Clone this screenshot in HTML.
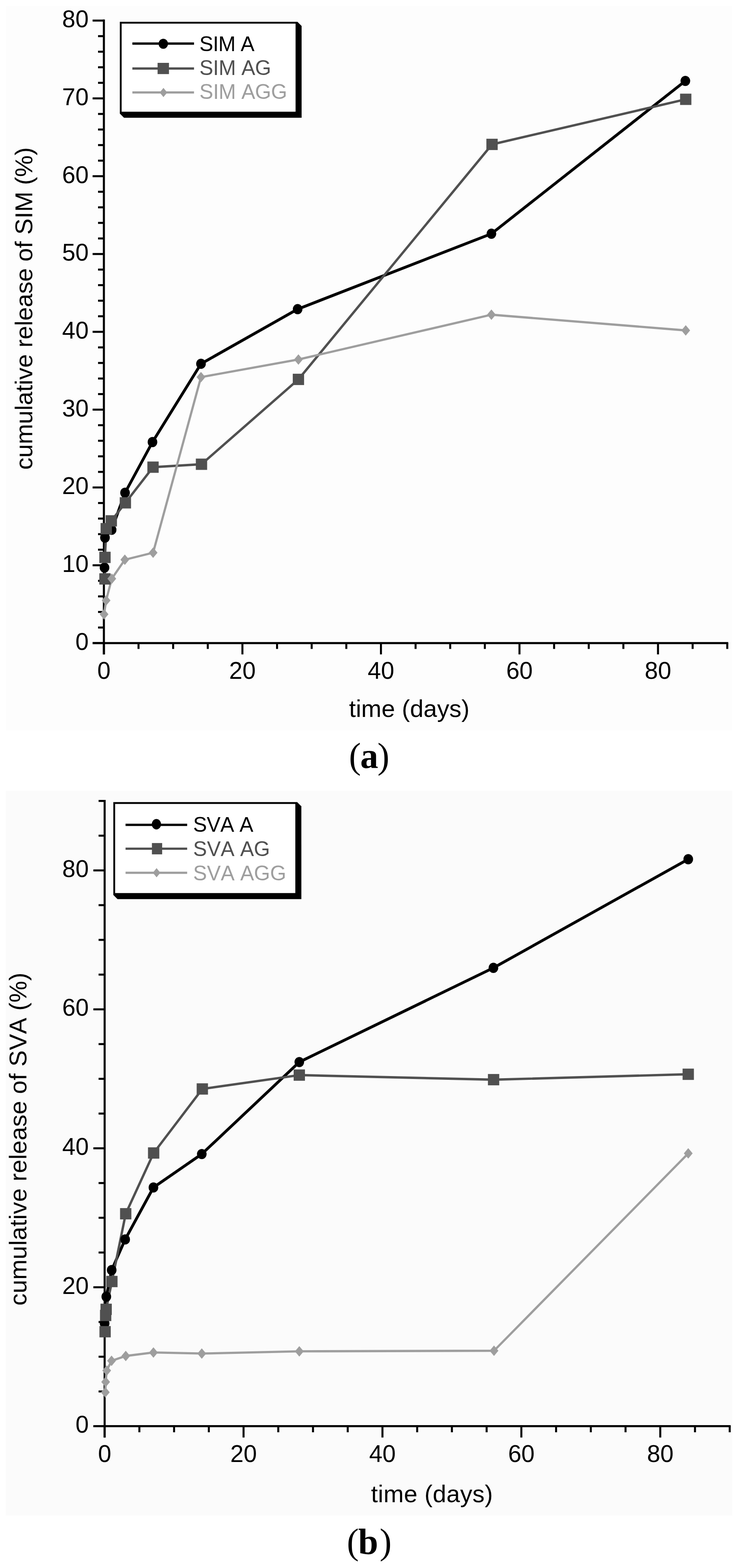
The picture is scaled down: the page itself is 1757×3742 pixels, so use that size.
<!DOCTYPE html>
<html><head><meta charset="utf-8"><title>Cumulative release</title><style>html,body{margin:0;padding:0;background:#fff;overflow:hidden}svg{display:block}text{font-kerning:none}</style></head><body>
<svg width="1757" height="3742" viewBox="0 0 1757 3742">
<rect width="1757" height="3742" fill="#fff"/>
<rect x="14" y="14" width="1734" height="1729" fill="#fdfdfd"/>
<line x1="248" y1="46.6" x2="248" y2="1561.65" stroke="#000" stroke-width="4.9"/>
<line x1="221.05" y1="1534.7" x2="1738.45" y2="1534.7" stroke="#000" stroke-width="5"/>
<line x1="221.05" y1="1534.7" x2="248" y2="1534.7" stroke="#000" stroke-width="4.8"/>
<text x="211.7" y="1550.7" font-family='"Liberation Sans", Arial, sans-serif' font-size="57" font-weight="normal" fill="#000000" text-anchor="end" >0</text>
<line x1="234.05" y1="1497.56" x2="248" y2="1497.56" stroke="#000" stroke-width="4.8"/>
<line x1="234.05" y1="1460.42" x2="248" y2="1460.42" stroke="#000" stroke-width="4.8"/>
<line x1="234.05" y1="1423.28" x2="248" y2="1423.28" stroke="#000" stroke-width="4.8"/>
<line x1="234.05" y1="1386.14" x2="248" y2="1386.14" stroke="#000" stroke-width="4.8"/>
<line x1="221.05" y1="1349" x2="248" y2="1349" stroke="#000" stroke-width="4.8"/>
<text x="211.7" y="1365" font-family='"Liberation Sans", Arial, sans-serif' font-size="57" font-weight="normal" fill="#000000" text-anchor="end" >10</text>
<line x1="234.05" y1="1311.86" x2="248" y2="1311.86" stroke="#000" stroke-width="4.8"/>
<line x1="234.05" y1="1274.72" x2="248" y2="1274.72" stroke="#000" stroke-width="4.8"/>
<line x1="234.05" y1="1237.58" x2="248" y2="1237.58" stroke="#000" stroke-width="4.8"/>
<line x1="234.05" y1="1200.44" x2="248" y2="1200.44" stroke="#000" stroke-width="4.8"/>
<line x1="221.05" y1="1163.3" x2="248" y2="1163.3" stroke="#000" stroke-width="4.8"/>
<text x="211.7" y="1179.3" font-family='"Liberation Sans", Arial, sans-serif' font-size="57" font-weight="normal" fill="#000000" text-anchor="end" >20</text>
<line x1="234.05" y1="1126.16" x2="248" y2="1126.16" stroke="#000" stroke-width="4.8"/>
<line x1="234.05" y1="1089.02" x2="248" y2="1089.02" stroke="#000" stroke-width="4.8"/>
<line x1="234.05" y1="1051.88" x2="248" y2="1051.88" stroke="#000" stroke-width="4.8"/>
<line x1="234.05" y1="1014.74" x2="248" y2="1014.74" stroke="#000" stroke-width="4.8"/>
<line x1="221.05" y1="977.6" x2="248" y2="977.6" stroke="#000" stroke-width="4.8"/>
<text x="211.7" y="993.6" font-family='"Liberation Sans", Arial, sans-serif' font-size="57" font-weight="normal" fill="#000000" text-anchor="end" >30</text>
<line x1="234.05" y1="940.46" x2="248" y2="940.46" stroke="#000" stroke-width="4.8"/>
<line x1="234.05" y1="903.32" x2="248" y2="903.32" stroke="#000" stroke-width="4.8"/>
<line x1="234.05" y1="866.18" x2="248" y2="866.18" stroke="#000" stroke-width="4.8"/>
<line x1="234.05" y1="829.04" x2="248" y2="829.04" stroke="#000" stroke-width="4.8"/>
<line x1="221.05" y1="791.9" x2="248" y2="791.9" stroke="#000" stroke-width="4.8"/>
<text x="211.7" y="807.9" font-family='"Liberation Sans", Arial, sans-serif' font-size="57" font-weight="normal" fill="#000000" text-anchor="end" >40</text>
<line x1="234.05" y1="754.76" x2="248" y2="754.76" stroke="#000" stroke-width="4.8"/>
<line x1="234.05" y1="717.62" x2="248" y2="717.62" stroke="#000" stroke-width="4.8"/>
<line x1="234.05" y1="680.48" x2="248" y2="680.48" stroke="#000" stroke-width="4.8"/>
<line x1="234.05" y1="643.34" x2="248" y2="643.34" stroke="#000" stroke-width="4.8"/>
<line x1="221.05" y1="606.2" x2="248" y2="606.2" stroke="#000" stroke-width="4.8"/>
<text x="211.7" y="622.2" font-family='"Liberation Sans", Arial, sans-serif' font-size="57" font-weight="normal" fill="#000000" text-anchor="end" >50</text>
<line x1="234.05" y1="569.06" x2="248" y2="569.06" stroke="#000" stroke-width="4.8"/>
<line x1="234.05" y1="531.92" x2="248" y2="531.92" stroke="#000" stroke-width="4.8"/>
<line x1="234.05" y1="494.78" x2="248" y2="494.78" stroke="#000" stroke-width="4.8"/>
<line x1="234.05" y1="457.64" x2="248" y2="457.64" stroke="#000" stroke-width="4.8"/>
<line x1="221.05" y1="420.5" x2="248" y2="420.5" stroke="#000" stroke-width="4.8"/>
<text x="211.7" y="436.5" font-family='"Liberation Sans", Arial, sans-serif' font-size="57" font-weight="normal" fill="#000000" text-anchor="end" >60</text>
<line x1="234.05" y1="383.36" x2="248" y2="383.36" stroke="#000" stroke-width="4.8"/>
<line x1="234.05" y1="346.22" x2="248" y2="346.22" stroke="#000" stroke-width="4.8"/>
<line x1="234.05" y1="309.08" x2="248" y2="309.08" stroke="#000" stroke-width="4.8"/>
<line x1="234.05" y1="271.94" x2="248" y2="271.94" stroke="#000" stroke-width="4.8"/>
<line x1="221.05" y1="234.8" x2="248" y2="234.8" stroke="#000" stroke-width="4.8"/>
<text x="211.7" y="250.8" font-family='"Liberation Sans", Arial, sans-serif' font-size="57" font-weight="normal" fill="#000000" text-anchor="end" >70</text>
<line x1="234.05" y1="197.66" x2="248" y2="197.66" stroke="#000" stroke-width="4.8"/>
<line x1="234.05" y1="160.52" x2="248" y2="160.52" stroke="#000" stroke-width="4.8"/>
<line x1="234.05" y1="123.38" x2="248" y2="123.38" stroke="#000" stroke-width="4.8"/>
<line x1="234.05" y1="86.24" x2="248" y2="86.24" stroke="#000" stroke-width="4.8"/>
<line x1="221.05" y1="49.1" x2="248" y2="49.1" stroke="#000" stroke-width="4.8"/>
<text x="211.7" y="65.1" font-family='"Liberation Sans", Arial, sans-serif' font-size="57" font-weight="normal" fill="#000000" text-anchor="end" >80</text>
<line x1="248" y1="1534.7" x2="248" y2="1561.7" stroke="#000" stroke-width="4.8"/>
<text x="248" y="1620" font-family='"Liberation Sans", Arial, sans-serif' font-size="57" font-weight="normal" fill="#000000" text-anchor="middle" >0</text>
<line x1="330.68" y1="1534.7" x2="330.68" y2="1548.7" stroke="#000" stroke-width="4.8"/>
<line x1="413.35" y1="1534.7" x2="413.35" y2="1548.7" stroke="#000" stroke-width="4.8"/>
<line x1="496.02" y1="1534.7" x2="496.02" y2="1548.7" stroke="#000" stroke-width="4.8"/>
<line x1="578.7" y1="1534.7" x2="578.7" y2="1561.7" stroke="#000" stroke-width="4.8"/>
<text x="578.7" y="1620" font-family='"Liberation Sans", Arial, sans-serif' font-size="57" font-weight="normal" fill="#000000" text-anchor="middle" >20</text>
<line x1="661.38" y1="1534.7" x2="661.38" y2="1548.7" stroke="#000" stroke-width="4.8"/>
<line x1="744.05" y1="1534.7" x2="744.05" y2="1548.7" stroke="#000" stroke-width="4.8"/>
<line x1="826.73" y1="1534.7" x2="826.73" y2="1548.7" stroke="#000" stroke-width="4.8"/>
<line x1="909.4" y1="1534.7" x2="909.4" y2="1561.7" stroke="#000" stroke-width="4.8"/>
<text x="909.4" y="1620" font-family='"Liberation Sans", Arial, sans-serif' font-size="57" font-weight="normal" fill="#000000" text-anchor="middle" >40</text>
<line x1="992.08" y1="1534.7" x2="992.08" y2="1548.7" stroke="#000" stroke-width="4.8"/>
<line x1="1074.75" y1="1534.7" x2="1074.75" y2="1548.7" stroke="#000" stroke-width="4.8"/>
<line x1="1157.42" y1="1534.7" x2="1157.42" y2="1548.7" stroke="#000" stroke-width="4.8"/>
<line x1="1240.1" y1="1534.7" x2="1240.1" y2="1561.7" stroke="#000" stroke-width="4.8"/>
<text x="1240.1" y="1620" font-family='"Liberation Sans", Arial, sans-serif' font-size="57" font-weight="normal" fill="#000000" text-anchor="middle" >60</text>
<line x1="1322.78" y1="1534.7" x2="1322.78" y2="1548.7" stroke="#000" stroke-width="4.8"/>
<line x1="1405.45" y1="1534.7" x2="1405.45" y2="1548.7" stroke="#000" stroke-width="4.8"/>
<line x1="1488.12" y1="1534.7" x2="1488.12" y2="1548.7" stroke="#000" stroke-width="4.8"/>
<line x1="1570.8" y1="1534.7" x2="1570.8" y2="1561.7" stroke="#000" stroke-width="4.8"/>
<text x="1570.8" y="1620" font-family='"Liberation Sans", Arial, sans-serif' font-size="57" font-weight="normal" fill="#000000" text-anchor="middle" >80</text>
<line x1="1653.47" y1="1534.7" x2="1653.47" y2="1548.7" stroke="#000" stroke-width="4.8"/>
<line x1="1736.15" y1="1534.7" x2="1736.15" y2="1548.7" stroke="#000" stroke-width="4.8"/>
<text x="833.2" y="1711" font-family='"Liberation Sans", Arial, sans-serif' font-size="58" font-weight="normal" fill="#000000" text-anchor="start" textLength="287.7" lengthAdjust="spacing" >time (days)</text>
<text x="76.8" y="1121" font-family='"Liberation Sans", Arial, sans-serif' font-size="58" font-weight="normal" fill="#000000" text-anchor="start" textLength="769.5" lengthAdjust="spacing" transform="rotate(-90 76.8 1121)">cumulative release of SIM (%)</text>
<polyline points="249.5,1354.7 250.6,1283 266.5,1264.4 298.5,1176 364,1055 479.8,868.2 710.5,737.8 1173.1,557.8 1636.1,193.1" fill="none" stroke="#000000" stroke-width="6.8" stroke-linejoin="round" stroke-linecap="butt"/>
<polyline points="250.6,1381.6 250.6,1330.2 253.6,1261.7 265.7,1243 299.3,1200 365.3,1114.9 481,1107.9 712.4,905.4 1174.6,344.6 1637,237" fill="none" stroke="#505050" stroke-width="5.7" stroke-linejoin="round" stroke-linecap="butt"/>
<polyline points="248.4,1465.9 253.3,1432.9 266.9,1381 298,1335.8 365.5,1319 479.8,900 712.4,857.9 1173.1,751 1637,788.5" fill="none" stroke="#9e9e9e" stroke-width="5.3" stroke-linejoin="round" stroke-linecap="butt"/>
<ellipse cx="249.5" cy="1354.7" rx="11.5" ry="12.2" fill="#000000"/>
<ellipse cx="250.6" cy="1283" rx="11.5" ry="12.2" fill="#000000"/>
<ellipse cx="266.5" cy="1264.4" rx="11.5" ry="12.2" fill="#000000"/>
<ellipse cx="298.5" cy="1176" rx="11.5" ry="12.2" fill="#000000"/>
<ellipse cx="364" cy="1055" rx="11.5" ry="12.2" fill="#000000"/>
<ellipse cx="479.8" cy="868.2" rx="11.5" ry="12.2" fill="#000000"/>
<ellipse cx="710.5" cy="737.8" rx="11.5" ry="12.2" fill="#000000"/>
<ellipse cx="1173.1" cy="557.8" rx="11.5" ry="12.2" fill="#000000"/>
<ellipse cx="1636.1" cy="193.1" rx="11.5" ry="12.2" fill="#000000"/>
<rect x="237.1" y="1368.1" width="27" height="27" fill="#505050"/>
<rect x="237.1" y="1316.7" width="27" height="27" fill="#505050"/>
<rect x="240.1" y="1248.2" width="27" height="27" fill="#505050"/>
<rect x="252.2" y="1229.5" width="27" height="27" fill="#505050"/>
<rect x="285.8" y="1186.5" width="27" height="27" fill="#505050"/>
<rect x="351.8" y="1101.4" width="27" height="27" fill="#505050"/>
<rect x="467.5" y="1094.4" width="27" height="27" fill="#505050"/>
<rect x="698.9" y="891.9" width="27" height="27" fill="#505050"/>
<rect x="1161.1" y="331.1" width="27" height="27" fill="#505050"/>
<rect x="1623.5" y="223.5" width="27" height="27" fill="#505050"/>
<polygon points="248.4,1453.4 258.9,1465.9 248.4,1478.4 237.9,1465.9" fill="#9e9e9e"/>
<polygon points="253.3,1420.4 263.8,1432.9 253.3,1445.4 242.8,1432.9" fill="#9e9e9e"/>
<polygon points="266.9,1368.5 277.4,1381 266.9,1393.5 256.4,1381" fill="#9e9e9e"/>
<polygon points="298,1323.3 308.5,1335.8 298,1348.3 287.5,1335.8" fill="#9e9e9e"/>
<polygon points="365.5,1306.5 376,1319 365.5,1331.5 355,1319" fill="#9e9e9e"/>
<polygon points="479.8,887.5 490.3,900 479.8,912.5 469.3,900" fill="#9e9e9e"/>
<polygon points="712.4,845.4 722.9,857.9 712.4,870.4 701.9,857.9" fill="#9e9e9e"/>
<polygon points="1173.1,738.5 1183.6,751 1173.1,763.5 1162.6,751" fill="#9e9e9e"/>
<polygon points="1637,776 1647.5,788.5 1637,801 1626.5,788.5" fill="#9e9e9e"/>
<polygon points="710,52 720,62 720,281 296,281 286,271" fill="#000"/>
<rect x="288.2" y="54.2" width="419.6" height="214.6" fill="#fff" stroke="#000" stroke-width="4.4"/>
<line x1="316" y1="104" x2="463.2" y2="104" stroke="#000000" stroke-width="5.5"/>
<ellipse cx="389.8" cy="104.5" rx="11.2" ry="12" fill="#000000"/>
<text x="476" y="122.4" font-family='"Liberation Sans", Arial, sans-serif' font-size="49.5" font-weight="normal" fill="#000000" text-anchor="start" textLength="131.5" lengthAdjust="spacing" >SIM A</text>
<line x1="316" y1="163.4" x2="463.2" y2="163.4" stroke="#505050" stroke-width="5.5"/>
<rect x="376.2" y="150" width="27.2" height="26.8" fill="#505050"/>
<text x="476" y="179.2" font-family='"Liberation Sans", Arial, sans-serif' font-size="49.5" font-weight="normal" fill="#505050" text-anchor="start" textLength="171.3" lengthAdjust="spacing" >SIM AG</text>
<line x1="316" y1="220.7" x2="463.2" y2="220.7" stroke="#9e9e9e" stroke-width="5.2"/>
<polygon points="390.2,209.7 399.2,220.7 390.2,231.7 381.2,220.7" fill="#9e9e9e"/>
<text x="476" y="236.4" font-family='"Liberation Sans", Arial, sans-serif' font-size="49.5" font-weight="normal" fill="#9e9e9e" text-anchor="start" textLength="209.5" lengthAdjust="spacing" >SIM AGG</text>
<text y="1832.7" font-family='"Liberation Serif", "Times New Roman", serif' font-size="86" fill="#000"><tspan x="833" font-weight="normal">(</tspan><tspan x="860" font-weight="bold">a</tspan><tspan x="901" font-weight="normal">)</tspan></text>
<rect x="14" y="1887" width="1734" height="1730" fill="#fbfbfb"/>
<line x1="249.8" y1="1908.9" x2="249.8" y2="3430.55" stroke="#000" stroke-width="4.9"/>
<line x1="222.85" y1="3403.6" x2="1744.3" y2="3403.6" stroke="#000" stroke-width="5"/>
<line x1="222.85" y1="3403.6" x2="249.8" y2="3403.6" stroke="#000" stroke-width="4.8"/>
<text x="211.9" y="3419.1" font-family='"Liberation Sans", Arial, sans-serif' font-size="57" font-weight="normal" fill="#000000" text-anchor="end" >0</text>
<line x1="235.35" y1="3320.7" x2="249.8" y2="3320.7" stroke="#000" stroke-width="4.8"/>
<line x1="235.35" y1="3237.8" x2="249.8" y2="3237.8" stroke="#000" stroke-width="4.8"/>
<line x1="235.35" y1="3154.9" x2="249.8" y2="3154.9" stroke="#000" stroke-width="4.8"/>
<line x1="222.85" y1="3072" x2="249.8" y2="3072" stroke="#000" stroke-width="4.8"/>
<text x="211.9" y="3087.5" font-family='"Liberation Sans", Arial, sans-serif' font-size="57" font-weight="normal" fill="#000000" text-anchor="end" >20</text>
<line x1="235.35" y1="2989.1" x2="249.8" y2="2989.1" stroke="#000" stroke-width="4.8"/>
<line x1="235.35" y1="2906.2" x2="249.8" y2="2906.2" stroke="#000" stroke-width="4.8"/>
<line x1="235.35" y1="2823.3" x2="249.8" y2="2823.3" stroke="#000" stroke-width="4.8"/>
<line x1="222.85" y1="2740.4" x2="249.8" y2="2740.4" stroke="#000" stroke-width="4.8"/>
<text x="211.9" y="2755.9" font-family='"Liberation Sans", Arial, sans-serif' font-size="57" font-weight="normal" fill="#000000" text-anchor="end" >40</text>
<line x1="235.35" y1="2657.5" x2="249.8" y2="2657.5" stroke="#000" stroke-width="4.8"/>
<line x1="235.35" y1="2574.6" x2="249.8" y2="2574.6" stroke="#000" stroke-width="4.8"/>
<line x1="235.35" y1="2491.7" x2="249.8" y2="2491.7" stroke="#000" stroke-width="4.8"/>
<line x1="222.85" y1="2408.8" x2="249.8" y2="2408.8" stroke="#000" stroke-width="4.8"/>
<text x="211.9" y="2424.3" font-family='"Liberation Sans", Arial, sans-serif' font-size="57" font-weight="normal" fill="#000000" text-anchor="end" >60</text>
<line x1="235.35" y1="2325.9" x2="249.8" y2="2325.9" stroke="#000" stroke-width="4.8"/>
<line x1="235.35" y1="2243" x2="249.8" y2="2243" stroke="#000" stroke-width="4.8"/>
<line x1="235.35" y1="2160.1" x2="249.8" y2="2160.1" stroke="#000" stroke-width="4.8"/>
<line x1="222.85" y1="2077.2" x2="249.8" y2="2077.2" stroke="#000" stroke-width="4.8"/>
<text x="211.9" y="2092.7" font-family='"Liberation Sans", Arial, sans-serif' font-size="57" font-weight="normal" fill="#000000" text-anchor="end" >80</text>
<line x1="235.35" y1="1994.3" x2="249.8" y2="1994.3" stroke="#000" stroke-width="4.8"/>
<line x1="235.35" y1="1911.4" x2="249.8" y2="1911.4" stroke="#000" stroke-width="4.8"/>
<line x1="249.8" y1="3403.6" x2="249.8" y2="3430.6" stroke="#000" stroke-width="4.8"/>
<text x="249.8" y="3488.6" font-family='"Liberation Sans", Arial, sans-serif' font-size="57" font-weight="normal" fill="#000000" text-anchor="middle" >0</text>
<line x1="332.7" y1="3403.6" x2="332.7" y2="3418.1" stroke="#000" stroke-width="4.8"/>
<line x1="415.6" y1="3403.6" x2="415.6" y2="3418.1" stroke="#000" stroke-width="4.8"/>
<line x1="498.5" y1="3403.6" x2="498.5" y2="3418.1" stroke="#000" stroke-width="4.8"/>
<line x1="581.4" y1="3403.6" x2="581.4" y2="3430.6" stroke="#000" stroke-width="4.8"/>
<text x="581.4" y="3488.6" font-family='"Liberation Sans", Arial, sans-serif' font-size="57" font-weight="normal" fill="#000000" text-anchor="middle" >20</text>
<line x1="664.3" y1="3403.6" x2="664.3" y2="3418.1" stroke="#000" stroke-width="4.8"/>
<line x1="747.2" y1="3403.6" x2="747.2" y2="3418.1" stroke="#000" stroke-width="4.8"/>
<line x1="830.1" y1="3403.6" x2="830.1" y2="3418.1" stroke="#000" stroke-width="4.8"/>
<line x1="913" y1="3403.6" x2="913" y2="3430.6" stroke="#000" stroke-width="4.8"/>
<text x="913" y="3488.6" font-family='"Liberation Sans", Arial, sans-serif' font-size="57" font-weight="normal" fill="#000000" text-anchor="middle" >40</text>
<line x1="995.9" y1="3403.6" x2="995.9" y2="3418.1" stroke="#000" stroke-width="4.8"/>
<line x1="1078.8" y1="3403.6" x2="1078.8" y2="3418.1" stroke="#000" stroke-width="4.8"/>
<line x1="1161.7" y1="3403.6" x2="1161.7" y2="3418.1" stroke="#000" stroke-width="4.8"/>
<line x1="1244.6" y1="3403.6" x2="1244.6" y2="3430.6" stroke="#000" stroke-width="4.8"/>
<text x="1244.6" y="3488.6" font-family='"Liberation Sans", Arial, sans-serif' font-size="57" font-weight="normal" fill="#000000" text-anchor="middle" >60</text>
<line x1="1327.5" y1="3403.6" x2="1327.5" y2="3418.1" stroke="#000" stroke-width="4.8"/>
<line x1="1410.4" y1="3403.6" x2="1410.4" y2="3418.1" stroke="#000" stroke-width="4.8"/>
<line x1="1493.3" y1="3403.6" x2="1493.3" y2="3418.1" stroke="#000" stroke-width="4.8"/>
<line x1="1576.2" y1="3403.6" x2="1576.2" y2="3430.6" stroke="#000" stroke-width="4.8"/>
<text x="1576.2" y="3488.6" font-family='"Liberation Sans", Arial, sans-serif' font-size="57" font-weight="normal" fill="#000000" text-anchor="middle" >80</text>
<line x1="1659.1" y1="3403.6" x2="1659.1" y2="3418.1" stroke="#000" stroke-width="4.8"/>
<line x1="1742" y1="3403.6" x2="1742" y2="3418.1" stroke="#000" stroke-width="4.8"/>
<text x="885.7" y="3585.3" font-family='"Liberation Sans", Arial, sans-serif' font-size="58" font-weight="normal" fill="#000000" text-anchor="start" textLength="290.8" lengthAdjust="spacing" >time (days)</text>
<text x="62.8" y="3115.8" font-family='"Liberation Sans", Arial, sans-serif' font-size="58" font-weight="normal" fill="#000000" text-anchor="start" textLength="794.6" lengthAdjust="spacing" transform="rotate(-90 62.8 3115.8)">cumulative release of SVA (%)</text>
<polyline points="249.8,3158.3 253.8,3094.5 266.6,3031 298.8,2957.9 366.3,2833.9 481.7,2754.1 714.5,2534.6 1177.9,2309.8 1643,2050.5" fill="none" stroke="#000000" stroke-width="6.8" stroke-linejoin="round" stroke-linecap="butt"/>
<polyline points="250.9,3178.1 252.2,3139.3 253.4,3124.7 267.1,3058.3 300.1,2896.6 366.8,2751.6 483,2598.8 714.5,2565.7 1178.3,2576.6 1643,2563.7" fill="none" stroke="#505050" stroke-width="5.7" stroke-linejoin="round" stroke-linecap="butt"/>
<polyline points="251.4,3322.7 252.2,3297.9 254.7,3270.7 266.3,3247.5 300.2,3236 366.3,3227.7 481.7,3230.2 714.5,3224.9 1179.3,3223.5 1643,2752.6" fill="none" stroke="#9e9e9e" stroke-width="5.3" stroke-linejoin="round" stroke-linecap="butt"/>
<ellipse cx="249.8" cy="3158.3" rx="11.5" ry="12.2" fill="#000000"/>
<ellipse cx="253.8" cy="3094.5" rx="11.5" ry="12.2" fill="#000000"/>
<ellipse cx="266.6" cy="3031" rx="11.5" ry="12.2" fill="#000000"/>
<ellipse cx="298.8" cy="2957.9" rx="11.5" ry="12.2" fill="#000000"/>
<ellipse cx="366.3" cy="2833.9" rx="11.5" ry="12.2" fill="#000000"/>
<ellipse cx="481.7" cy="2754.1" rx="11.5" ry="12.2" fill="#000000"/>
<ellipse cx="714.5" cy="2534.6" rx="11.5" ry="12.2" fill="#000000"/>
<ellipse cx="1177.9" cy="2309.8" rx="11.5" ry="12.2" fill="#000000"/>
<ellipse cx="1643" cy="2050.5" rx="11.5" ry="12.2" fill="#000000"/>
<rect x="237.4" y="3164.6" width="27" height="27" fill="#505050"/>
<rect x="238.7" y="3125.8" width="27" height="27" fill="#505050"/>
<rect x="239.9" y="3111.2" width="27" height="27" fill="#505050"/>
<rect x="253.6" y="3044.8" width="27" height="27" fill="#505050"/>
<rect x="286.6" y="2883.1" width="27" height="27" fill="#505050"/>
<rect x="353.3" y="2738.1" width="27" height="27" fill="#505050"/>
<rect x="469.5" y="2585.3" width="27" height="27" fill="#505050"/>
<rect x="701" y="2552.2" width="27" height="27" fill="#505050"/>
<rect x="1164.8" y="2563.1" width="27" height="27" fill="#505050"/>
<rect x="1629.5" y="2550.2" width="27" height="27" fill="#505050"/>
<polygon points="251.4,3310.2 261.9,3322.7 251.4,3335.2 240.9,3322.7" fill="#9e9e9e"/>
<polygon points="252.2,3285.4 262.7,3297.9 252.2,3310.4 241.7,3297.9" fill="#9e9e9e"/>
<polygon points="254.7,3258.2 265.2,3270.7 254.7,3283.2 244.2,3270.7" fill="#9e9e9e"/>
<polygon points="266.3,3235 276.8,3247.5 266.3,3260 255.8,3247.5" fill="#9e9e9e"/>
<polygon points="300.2,3223.5 310.7,3236 300.2,3248.5 289.7,3236" fill="#9e9e9e"/>
<polygon points="366.3,3215.2 376.8,3227.7 366.3,3240.2 355.8,3227.7" fill="#9e9e9e"/>
<polygon points="481.7,3217.7 492.2,3230.2 481.7,3242.7 471.2,3230.2" fill="#9e9e9e"/>
<polygon points="714.5,3212.4 725,3224.9 714.5,3237.4 704,3224.9" fill="#9e9e9e"/>
<polygon points="1179.3,3211 1189.8,3223.5 1179.3,3236 1168.8,3223.5" fill="#9e9e9e"/>
<polygon points="1643,2740.1 1653.5,2752.6 1643,2765.1 1632.5,2752.6" fill="#9e9e9e"/>
<polygon points="709.4,1914.2 719.4,1924.2 719.4,2145.7 280.5,2145.7 270.5,2135.7" fill="#000"/>
<rect x="272.7" y="1916.4" width="434.5" height="217.1" fill="#fff" stroke="#000" stroke-width="4.4"/>
<line x1="299.7" y1="1968.6" x2="446.8" y2="1968.6" stroke="#000000" stroke-width="5.5"/>
<ellipse cx="373.4" cy="1967" rx="11" ry="12.4" fill="#000000"/>
<text x="461.1" y="1984.7" font-family='"Liberation Sans", Arial, sans-serif' font-size="49.5" font-weight="normal" fill="#000000" text-anchor="start" textLength="143.7" lengthAdjust="spacing" >SVA A</text>
<line x1="299.7" y1="2025.4" x2="446.8" y2="2025.4" stroke="#505050" stroke-width="5.2"/>
<rect x="362.65" y="2011.9" width="24.5" height="27" fill="#505050"/>
<text x="461.1" y="2043" font-family='"Liberation Sans", Arial, sans-serif' font-size="49.5" font-weight="normal" fill="#505050" text-anchor="start" textLength="183.4" lengthAdjust="spacing" >SVA AG</text>
<line x1="299.7" y1="2082.8" x2="446.8" y2="2082.8" stroke="#9e9e9e" stroke-width="5.2"/>
<polygon points="373.8,2071.8 382.8,2082.8 373.8,2093.8 364.8,2082.8" fill="#9e9e9e"/>
<text x="461.1" y="2100.6" font-family='"Liberation Sans", Arial, sans-serif' font-size="49.5" font-weight="normal" fill="#9e9e9e" text-anchor="start" textLength="222.1" lengthAdjust="spacing" >SVA AGG</text>
<text y="3708" font-family='"Liberation Serif", "Times New Roman", serif' font-size="86" fill="#000"><tspan x="827.9" font-weight="normal">(</tspan><tspan x="855.1" font-weight="bold">b</tspan><tspan x="906.3" font-weight="normal">)</tspan></text>
</svg></body></html>
